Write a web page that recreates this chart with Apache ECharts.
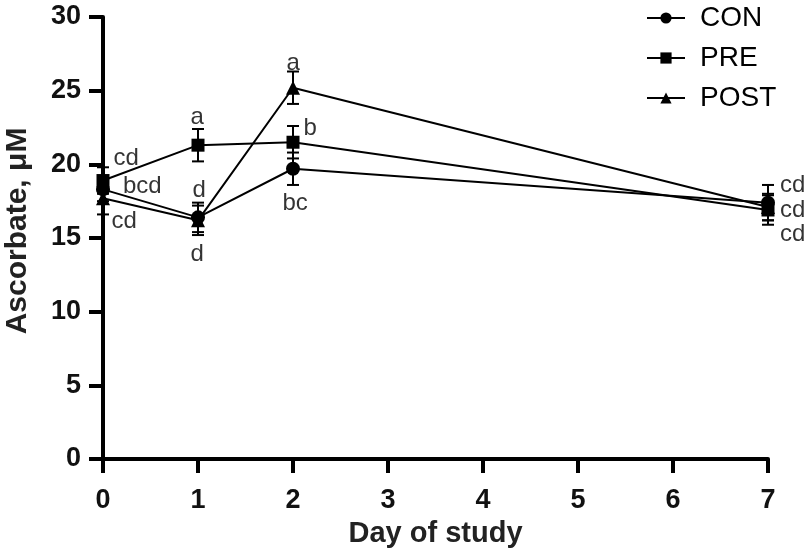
<!DOCTYPE html>
<html>
<head>
<meta charset="utf-8">
<script src="https://cdn.jsdelivr.net/npm/echarts@6/dist/echarts.min.js"></script>
<style>html,body{margin:0;padding:0;background:#fff;}#c{width:810px;height:555px;}</style>
</head>
<body>
<div id="c"></div>
<script>
var days = [0, 1, 2, 7];
var conMean = [18.3, 16.4, 19.7, 17.4];
var conSem  = [0.8, 1.0, 1.1, 1.2];
var preMean = [18.9, 21.3, 21.5, 16.9];
var preSem  = [0.9, 1.1, 1.1, 1.0];
var postMean = [17.7, 16.2, 25.2, 17.1];
var postSem  = [1.1, 1.0, 1.1, 0.9];
var letterText = ['cd', 'bcd', 'cd', 'a', 'd', 'd', 'a', 'b', 'bc', 'cd', 'cd', 'cd'];
var letterX = [0.245, 0.413, 0.224, 0.992, 1.013, 0.992, 2.001, 2.18, 2.022, 7.26, 7.26, 7.26];
var letterY = [20.43, 18.53, 16.16, 23.22, 18.26, 13.92, 26.88, 22.47, 17.38, 18.6, 16.9, 15.27];
var yTicks = [0, 5, 10, 15, 20, 25, 30];
var xTicks = [0, 1, 2, 3, 4, 5, 6, 7];

var FONT = 'Liberation Sans, Arial, sans-serif';

function pts(mean) { return days.map(function (d, i) { return [d, mean[i]]; }); }
function errs(mean, sem) { return days.map(function (d, i) { return [d, mean[i] - sem[i], mean[i] + sem[i]]; }); }

function errSeries(name, mean, sem) {
  return {
    type: 'custom', name: name + ' err', data: errs(mean, sem), z: 3, silent: true,
    renderItem: function (params, api) {
      var x = api.value(0);
      var lo = api.coord([x, api.value(1)]);
      var hi = api.coord([x, api.value(2)]);
      var w = 6;
      var st = { stroke: '#000', lineWidth: 2 };
      return { type: 'group', children: [
        { type: 'line', shape: { x1: lo[0], y1: lo[1], x2: hi[0], y2: hi[1] }, style: st },
        { type: 'line', shape: { x1: lo[0] - w, y1: lo[1], x2: lo[0] + w, y2: lo[1] }, style: st },
        { type: 'line', shape: { x1: hi[0] - w, y1: hi[1], x2: hi[0] + w, y2: hi[1] }, style: st }
      ] };
    }
  };
}
function lineSeries(name, mean, symbol, size) {
  return {
    type: 'line', name: name, data: pts(mean), symbol: symbol, symbolSize: size, showSymbol: true,
    lineStyle: { color: '#000', width: 2 }, itemStyle: { color: '#000' }, z: 4, animation: false
  };
}

var chart = echarts.init(document.getElementById('c'));
chart.setOption({
  animation: false,
  grid: { left: 103, right: 42, top: 17, bottom: 96, outerBoundsMode: 'none', containLabel: false },
  legend: {
    orient: 'vertical', left: 646, top: 3, padding: 0, itemWidth: 38, itemHeight: 14, itemGap: 10,
    data: ['CON', 'PRE', 'POST'],
    textStyle: { fontFamily: FONT, fontSize: 28, color: '#000', lineHeight: 30, padding: [0, 0, 0, 10] },
    selectedMode: false
  },
  xAxis: {
    type: 'value', min: 0, max: 7, interval: 1,
    name: 'Day of study', nameLocation: 'middle', nameGap: 60,
    nameTextStyle: { fontFamily: FONT, fontSize: 29, fontWeight: 'bold', color: '#222' },
    axisLine: { show: true, lineStyle: { color: '#000', width: 4 } },
    axisTick: { show: true, length: 14, lineStyle: { color: '#000', width: 4 } },
    axisLabel: { fontFamily: FONT, fontSize: 27, fontWeight: 'bold', color: '#111', margin: 28,
      formatter: function (v) { return xTicks.indexOf(v) >= 0 ? String(v) : ''; } },
    splitLine: { show: false }
  },
  yAxis: {
    type: 'value', min: 0, max: 30, interval: 5,
    name: 'Ascorbate, \u03bcM', nameLocation: 'middle', nameGap: 70,
    nameTextStyle: { fontFamily: FONT, fontSize: 30, fontWeight: 'bold', color: '#222', padding: [0, 0, 0, 14] },
    axisLine: { show: true, lineStyle: { color: '#000', width: 4 } },
    axisTick: { show: true, length: 14, lineStyle: { color: '#000', width: 4 } },
    axisLabel: { fontFamily: FONT, fontSize: 27, fontWeight: 'bold', color: '#111', margin: 22,
      formatter: function (v) { return yTicks.indexOf(v) >= 0 ? String(v) : ''; } },
    splitLine: { show: false }
  },
  series: [
    errSeries('CON', conMean, conSem),
    errSeries('PRE', preMean, preSem),
    errSeries('POST', postMean, postSem),
    lineSeries('CON', conMean, 'circle', 14),
    lineSeries('PRE', preMean, 'rect', 13),
    lineSeries('POST', postMean, 'triangle', 14),
    {
      type: 'scatter', name: 'letters', symbolSize: 0, clip: false, silent: true, z: 5,
      data: letterText.map(function (t, i) { return { value: [letterX[i], letterY[i]], name: t }; }),
      label: { show: true, position: 'inside', formatter: function (p) { return p.name; },
        fontFamily: FONT, fontSize: 24, color: '#000' }
    }
  ]
});
</script>
</body>
</html>
